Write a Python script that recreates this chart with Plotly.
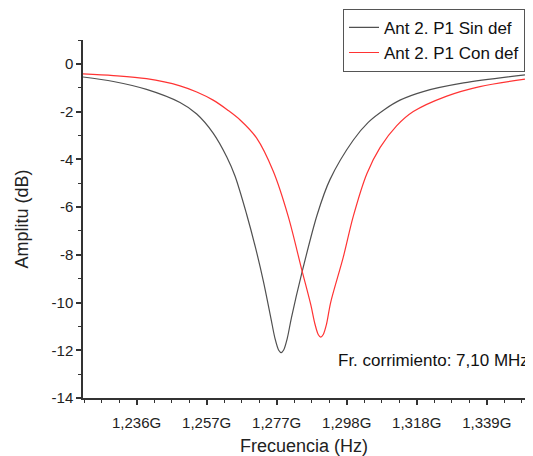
import plotly.graph_objects as go

# Frequency (GHz) and amplitude (dB)
f_sin = [1.2205, 1.2294, 1.2391, 1.2489, 1.2538, 1.2586, 1.2626, 1.2650, 1.2684,
         1.2710, 1.2733, 1.2755, 1.2767, 1.2778, 1.2785, 1.2792, 1.2803, 1.2815,
         1.2845, 1.2891, 1.2928, 1.2996, 1.3040, 1.3089, 1.3133, 1.3201, 1.3319, 1.3499]
a_sin = [-0.55, -0.74, -1.07, -1.62, -2.1, -2.9, -3.9, -4.7, -6.3,
         -7.7, -9.1, -10.65, -11.5, -12.0, -12.1, -12.0, -11.5, -10.65,
         -8.8, -6.3, -4.85, -3.2, -2.45, -1.9, -1.52, -1.16, -0.8, -0.46]

f_con = [1.2205, 1.2294, 1.2391, 1.2489, 1.2538, 1.2586, 1.2630, 1.2665, 1.2713,
         1.2762, 1.2806, 1.2845, 1.2872, 1.2884, 1.2894, 1.2901, 1.2908, 1.2918,
         1.2930, 1.2967, 1.2996, 1.3036, 1.3075, 1.3123, 1.3172, 1.3270, 1.3367, 1.3499]
a_con = [-0.42, -0.49, -0.62, -0.92, -1.18, -1.52, -1.95, -2.35, -3.1,
         -4.5, -6.4, -8.6, -10.1, -10.9, -11.35, -11.45, -11.35, -10.9,
         -10.0, -8.1, -6.4, -4.6, -3.5, -2.6, -2.0, -1.35, -0.95, -0.64]

x_tickvals = [1.2362, 1.2567, 1.2772, 1.2977, 1.3182, 1.3387]
x_ticktext = ["1,236G", "1,257G", "1,277G", "1,298G", "1,318G", "1,339G"]
y_tickvals = [0, -2, -4, -6, -8, -10, -12, -14]
y_ticktext = ["0", "-2", "-4", "-6", "-8", "-10", "-12", "-14"]

FONT = "Liberation Sans, Arial, sans-serif"

fig = go.Figure()
fig.add_trace(go.Scatter(x=f_sin, y=a_sin, mode="lines", name="Ant 2. P1 Sin def",
                         line=dict(color="#505050", width=1.2, shape="spline", smoothing=0.9)))
fig.add_trace(go.Scatter(x=f_con, y=a_con, mode="lines", name="Ant 2. P1 Con def",
                         line=dict(color="#ff3333", width=1.2, shape="spline", smoothing=0.9)))

# page body has an 8px margin: figure shrunk and margins offset accordingly
fig.update_layout(
    width=525, height=448,
    margin=dict(l=75, r=8, t=32, b=58, autoexpand=False),
    paper_bgcolor="white", plot_bgcolor="white",
    font=dict(family=FONT, color="#222", size=15),
    showlegend=True,
    legend=dict(x=1.0, xanchor="right", y=1.087, yanchor="top",
                bordercolor="#555", borderwidth=1, bgcolor="white",
                font=dict(size=17, family=FONT, color="#111"),
                tracegroupgap=0),
    annotations=[dict(text="Fr. corrimiento: 7,10 MHz", xref="paper", yref="paper",
                      x=1.014, y=0.106, xanchor="right", yanchor="middle",
                      showarrow=False, font=dict(size=17, family=FONT, color="#111"))],
)

fig.update_xaxes(
    range=[1.2205, 1.3499], tickvals=x_tickvals, ticktext=x_ticktext,
    ticks="outside", ticklen=5, tickwidth=1.5, tickcolor="#333",
    showline=True, linecolor="#333", linewidth=1.5, showgrid=False, zeroline=False,
    tickfont=dict(size=15, family=FONT, color="#222"), ticklabelstandoff=5,
    minor=dict(ticks="outside", ticklen=3, tickwidth=1.2, tickcolor="#333",
               tickmode="linear", tick0=1.2362, dtick=0.005125, showgrid=False),
    title=dict(text="Frecuencia (Hz)", font=dict(size=18, family=FONT, color="#222"), standoff=14),
    automargin=False,
)
fig.update_yaxes(
    range=[-14, 1], tickvals=y_tickvals, ticktext=y_ticktext,
    ticks="outside", ticklen=5, tickwidth=1.5, tickcolor="#333",
    showline=True, linecolor="#333", linewidth=1.5, showgrid=False, zeroline=False,
    tickfont=dict(size=15, family=FONT, color="#222"),
    minor=dict(ticks="outside", ticklen=3, tickwidth=1.2, tickcolor="#333",
               tickmode="linear", tick0=0, dtick=1, showgrid=False),
    title=dict(text="Amplitu (dB)", font=dict(size=18, family=FONT, color="#222"), standoff=18),
    automargin=False,
)

fig.write_html("out.html")
